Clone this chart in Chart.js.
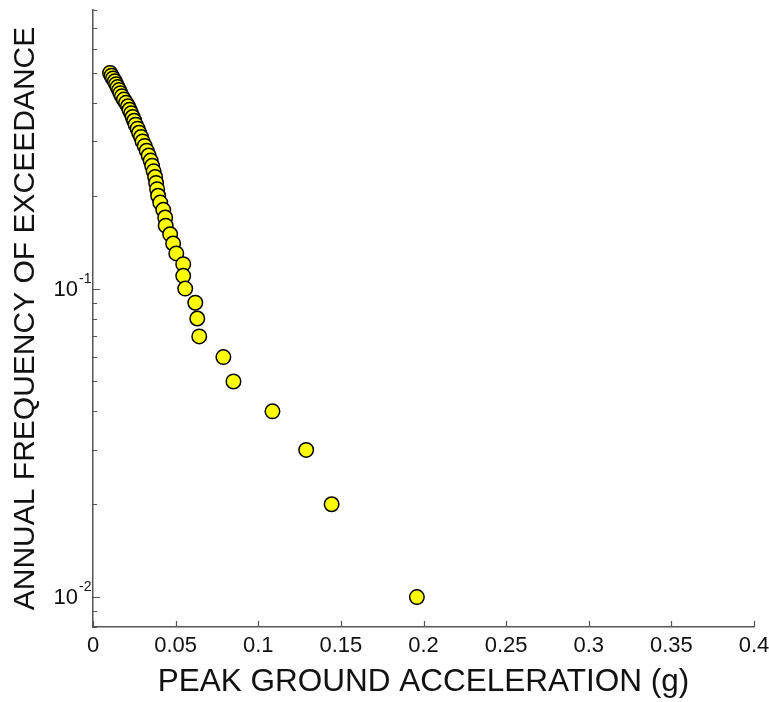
<!DOCTYPE html>
<html>
<head>
<meta charset="utf-8">
<script src="https://cdn.jsdelivr.net/npm/chart.js@4.4.1/dist/chart.umd.min.js"></script>
<style>
  html, body { margin: 0; padding: 0; background: #fff; }
  #wrap { width: 769px; height: 702px; }
</style>
</head>
<body>
<div id="wrap"><canvas id="chart-pga"></canvas></div>
<script>
// --- Data ---
const pga = [
  0.0103, 0.0112, 0.0121, 0.0132, 0.0140, 0.0149, 0.0158, 0.0166, 0.0175, 0.0187,
  0.0200, 0.0212, 0.0221, 0.0231, 0.0240, 0.0249, 0.0258, 0.0270, 0.0279, 0.0291,
  0.0300, 0.0313, 0.0325, 0.0337, 0.0349, 0.0358, 0.0367, 0.0376, 0.0382, 0.0388,
  0.0394, 0.0407, 0.0425, 0.0437, 0.0440, 0.0467, 0.0485, 0.0504, 0.0546, 0.0546,
  0.0558, 0.0619, 0.0631, 0.0643, 0.0789, 0.0850, 0.1086, 0.1290, 0.1444, 0.1960
];
const freq = [
  0.50, 0.49, 0.48, 0.47, 0.46, 0.45, 0.44, 0.43, 0.42, 0.41,
  0.40, 0.39, 0.38, 0.37, 0.36, 0.35, 0.34, 0.33, 0.32, 0.31,
  0.30, 0.29, 0.28, 0.27, 0.26, 0.25, 0.24, 0.23, 0.22, 0.21,
  0.20, 0.19, 0.18, 0.17, 0.16, 0.15, 0.14, 0.13, 0.12, 0.11,
  0.10, 0.09, 0.08, 0.07, 0.06, 0.05, 0.04, 0.03, 0.02, 0.01
];

const xTickLabels = ['0', '0.05', '0.1', '0.15', '0.2', '0.25', '0.3', '0.35', '0.4'];
const yDecades = [0.01, 0.1];
const yDecadeLabels = [['10', '-2'], ['10', '-1']];
const yMultipliers = [1, 2, 3, 4, 5, 6, 7, 8, 9];

const X_MIN = 0, X_MAX = 0.4;
const Y_MIN = 0.008, Y_MAX = 0.8;

const FONT = 'Arial, "Liberation Sans", Helvetica, sans-serif';
const AXIS_COLOR = '#555';

// ticks pointing inward + 10^n labels (MATLAB look)
const inwardTicks = {
  id: 'inwardTicks',
  afterDraw(chart) {
    const { ctx, chartArea: a, scales: { x, y } } = chart;
    ctx.save();
    ctx.strokeStyle = AXIS_COLOR;
    ctx.lineWidth = 1.2;
    ctx.beginPath();
    x.ticks.forEach(t => {
      const px = Math.round(x.getPixelForValue(t.value)) + 0.5;
      ctx.moveTo(px, a.bottom);
      ctx.lineTo(px, a.bottom - 6);
    });
    [0.001].concat(yDecades).forEach(d => {
      yMultipliers.forEach(m => {
        const v = d * m;
        if (v < Y_MIN - 1e-9 || v > Y_MAX + 1e-9) return;
        const py = Math.round(y.getPixelForValue(v)) + 0.5;
        const len = m === 1 ? 7 : 4;
        ctx.moveTo(a.left, py);
        ctx.lineTo(a.left + len, py);
      });
    });
    ctx.stroke();

    ctx.fillStyle = '#111';
    yDecades.forEach((d, i) => {
      const py = y.getPixelForValue(d);
      const [base, sup] = yDecadeLabels[i];
      ctx.font = '22px ' + FONT;
      ctx.textAlign = 'right';
      ctx.textBaseline = 'alphabetic';
      ctx.fillText(base, 78, py + 7);
      ctx.font = '14px ' + FONT;
      ctx.textAlign = 'left';
      ctx.fillText(sup, 79, py - 6);
    });
    ctx.restore();
  }
};

const ctx = document.getElementById('chart-pga').getContext('2d');
new Chart(ctx, {
  type: 'scatter',
  data: {
    datasets: [{
      data: pga.map((v, i) => ({ x: v, y: freq[i] })),
      backgroundColor: '#ffff00',
      borderColor: '#000',
      borderWidth: 1.5,
      pointRadius: 7.25,
      pointHoverRadius: 7.25
    }]
  },
  options: {
    responsive: true,
    maintainAspectRatio: false,
    animation: false,
    layout: { padding: { left: 4, right: 15, top: 10, bottom: 0 } },
    plugins: {
      legend: { display: false },
      tooltip: { enabled: false }
    },
    scales: {
      x: {
        type: 'linear',
        min: X_MIN,
        max: X_MAX,
        afterFit: s => { s.height = 75; s.paddingRight = 0; s.paddingLeft = 0; },
        grid: { display: false, drawTicks: false },
        border: { display: true, color: AXIS_COLOR, width: 1.5 },
        ticks: {
          stepSize: 0.05,
          padding: 6,
          color: '#111',
          font: { family: FONT, size: 22 },
          maxRotation: 0,
          autoSkip: false,
          callback: (v, i) => xTickLabels[i]
        },
        title: {
          display: true,
          text: 'PEAK GROUND ACCELERATION (g)',
          color: '#111',
          font: { family: FONT, size: 31.5 },
          padding: { top: 0, bottom: 1 }
        }
      },
      y: {
        type: 'logarithmic',
        min: Y_MIN,
        max: Y_MAX,
        afterFit: s => { s.width = 89; },
        grid: { display: false, drawTicks: false },
        border: { display: true, color: AXIS_COLOR, width: 1.5 },
        ticks: { display: false, autoSkip: false },
        title: {
          display: true,
          text: 'ANNUAL FREQUENCY OF EXCEEDANCE',
          color: '#111',
          font: { family: FONT, size: 30 },
          padding: { top: 4, bottom: 0 }
        }
      }
    }
  },
  plugins: [inwardTicks]
});
</script>
</body>
</html>
